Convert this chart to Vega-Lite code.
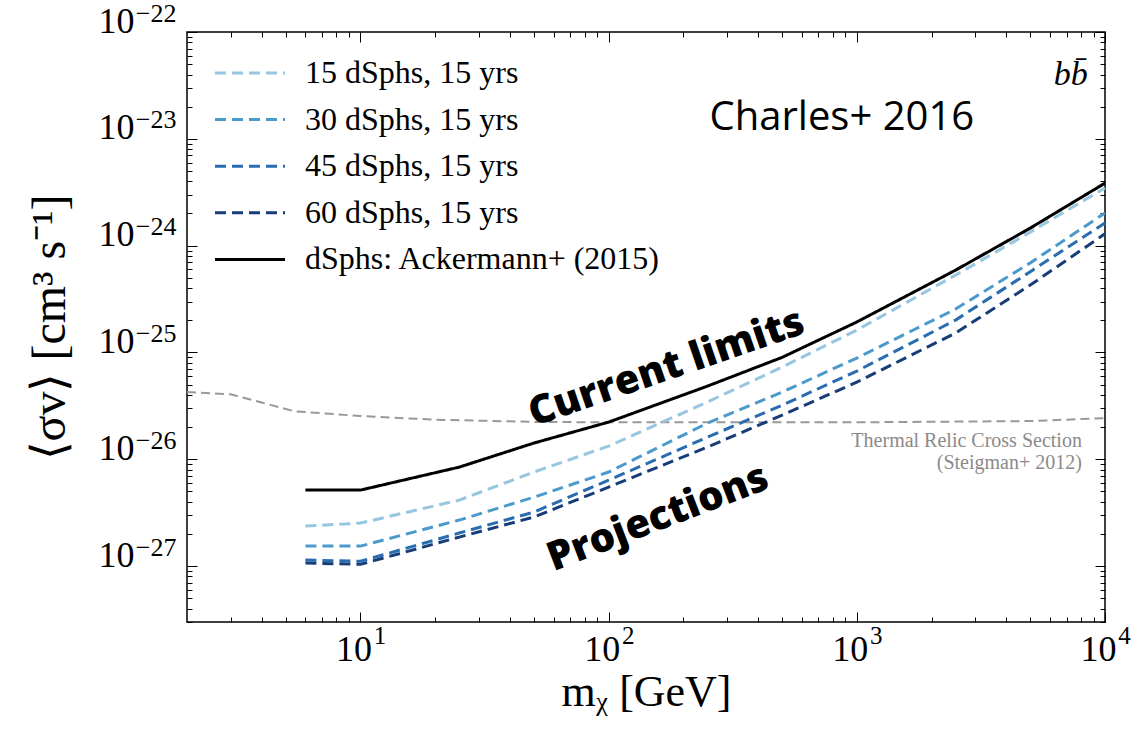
{
  "$schema": "https://vega.github.io/schema/vega-lite/v6.json",
  "width": 918,
  "height": 590,
  "autosize": {"type": "none"},
  "padding": {"left": 187, "top": 32, "right": 34, "bottom": 111},
  "background": "white",
  "config": {
    "view": {"stroke": "black", "strokeWidth": 1.5},
    "axis": {
      "domain": false,
      "grid": false,
      "tickColor": "black",
      "tickWidth": 1,
      "labelFont": "Liberation Serif",
      "labelColor": "black",
      "titleFont": "Liberation Serif",
      "titleColor": "black",
      "titleFontWeight": "normal",
      "labelOverlap": false,
      "labelFlush": false,
      "labelBound": false
    }
  },
  "datasets": {
    "limits": [
      {"series": "15 dSphs, 15 yrs", "mass": 6, "sv": 2.37e-27},
      {"series": "15 dSphs, 15 yrs", "mass": 10, "sv": 2.53e-27},
      {"series": "15 dSphs, 15 yrs", "mass": 25, "sv": 4.15e-27},
      {"series": "15 dSphs, 15 yrs", "mass": 50, "sv": 7.6e-27},
      {"series": "15 dSphs, 15 yrs", "mass": 100, "sv": 1.33e-26},
      {"series": "15 dSphs, 15 yrs", "mass": 250, "sv": 3.44e-26},
      {"series": "15 dSphs, 15 yrs", "mass": 500, "sv": 7.3e-26},
      {"series": "15 dSphs, 15 yrs", "mass": 1000, "sv": 1.62e-25},
      {"series": "15 dSphs, 15 yrs", "mass": 2500, "sv": 5.3e-25},
      {"series": "15 dSphs, 15 yrs", "mass": 5000, "sv": 1.34e-24},
      {"series": "15 dSphs, 15 yrs", "mass": 10000, "sv": 3.47e-24},
      {"series": "30 dSphs, 15 yrs", "mass": 6, "sv": 1.54e-27},
      {"series": "30 dSphs, 15 yrs", "mass": 10, "sv": 1.54e-27},
      {"series": "30 dSphs, 15 yrs", "mass": 25, "sv": 2.7e-27},
      {"series": "30 dSphs, 15 yrs", "mass": 50, "sv": 4.42e-27},
      {"series": "30 dSphs, 15 yrs", "mass": 100, "sv": 7.6e-27},
      {"series": "30 dSphs, 15 yrs", "mass": 250, "sv": 2.18e-26},
      {"series": "30 dSphs, 15 yrs", "mass": 500, "sv": 4.26e-26},
      {"series": "30 dSphs, 15 yrs", "mass": 1000, "sv": 8.87e-26},
      {"series": "30 dSphs, 15 yrs", "mass": 2500, "sv": 2.55e-25},
      {"series": "30 dSphs, 15 yrs", "mass": 5000, "sv": 6.9e-25},
      {"series": "30 dSphs, 15 yrs", "mass": 10000, "sv": 2.02e-24},
      {"series": "45 dSphs, 15 yrs", "mass": 6, "sv": 1.14e-27},
      {"series": "45 dSphs, 15 yrs", "mass": 10, "sv": 1.11e-27},
      {"series": "45 dSphs, 15 yrs", "mass": 25, "sv": 2.04e-27},
      {"series": "45 dSphs, 15 yrs", "mass": 50, "sv": 3.21e-27},
      {"series": "45 dSphs, 15 yrs", "mass": 100, "sv": 6.38e-27},
      {"series": "45 dSphs, 15 yrs", "mass": 250, "sv": 1.61e-26},
      {"series": "45 dSphs, 15 yrs", "mass": 500, "sv": 3.21e-26},
      {"series": "45 dSphs, 15 yrs", "mass": 1000, "sv": 6.7e-26},
      {"series": "45 dSphs, 15 yrs", "mass": 2500, "sv": 2.01e-25},
      {"series": "45 dSphs, 15 yrs", "mass": 5000, "sv": 5.71e-25},
      {"series": "45 dSphs, 15 yrs", "mass": 10000, "sv": 1.63e-24},
      {"series": "60 dSphs, 15 yrs", "mass": 6, "sv": 1.07e-27},
      {"series": "60 dSphs, 15 yrs", "mass": 10, "sv": 1.04e-27},
      {"series": "60 dSphs, 15 yrs", "mass": 25, "sv": 1.87e-27},
      {"series": "60 dSphs, 15 yrs", "mass": 50, "sv": 2.88e-27},
      {"series": "60 dSphs, 15 yrs", "mass": 100, "sv": 5.5e-27},
      {"series": "60 dSphs, 15 yrs", "mass": 250, "sv": 1.3e-26},
      {"series": "60 dSphs, 15 yrs", "mass": 500, "sv": 2.59e-26},
      {"series": "60 dSphs, 15 yrs", "mass": 1000, "sv": 5.28e-26},
      {"series": "60 dSphs, 15 yrs", "mass": 2500, "sv": 1.52e-25},
      {"series": "60 dSphs, 15 yrs", "mass": 5000, "sv": 4.28e-25},
      {"series": "60 dSphs, 15 yrs", "mass": 10000, "sv": 1.29e-24},
      {"series": "dSphs: Ackermann+ (2015)", "mass": 6, "sv": 5.15e-27},
      {"series": "dSphs: Ackermann+ (2015)", "mass": 10, "sv": 5.15e-27},
      {"series": "dSphs: Ackermann+ (2015)", "mass": 25, "sv": 8.45e-27},
      {"series": "dSphs: Ackermann+ (2015)", "mass": 50, "sv": 1.42e-26},
      {"series": "dSphs: Ackermann+ (2015)", "mass": 100, "sv": 2.23e-26},
      {"series": "dSphs: Ackermann+ (2015)", "mass": 250, "sv": 4.84e-26},
      {"series": "dSphs: Ackermann+ (2015)", "mass": 500, "sv": 9.0e-26},
      {"series": "dSphs: Ackermann+ (2015)", "mass": 1000, "sv": 1.93e-25},
      {"series": "dSphs: Ackermann+ (2015)", "mass": 2500, "sv": 5.9e-25},
      {"series": "dSphs: Ackermann+ (2015)", "mass": 5000, "sv": 1.46e-24},
      {"series": "dSphs: Ackermann+ (2015)", "mass": 10000, "sv": 3.85e-24}
    ],
    "relic": [
      {"mass": 2, "sv": 4.26e-26},
      {"mass": 3, "sv": 4.06e-26},
      {"mass": 4, "sv": 3.4e-26},
      {"mass": 5.4, "sv": 2.82e-26},
      {"mass": 10, "sv": 2.54e-26},
      {"mass": 20, "sv": 2.35e-26},
      {"mass": 50, "sv": 2.24e-26},
      {"mass": 100, "sv": 2.22e-26},
      {"mass": 1000, "sv": 2.22e-26},
      {"mass": 5000, "sv": 2.28e-26},
      {"mass": 10000, "sv": 2.43e-26}
    ]
  },
  "layer": [
    {
      "data": {"name": "relic"},
      "mark": {"type": "line", "color": "#999999", "strokeWidth": 2, "strokeDash": [9, 5]},
      "encoding": {
        "x": {
          "field": "mass", "type": "quantitative",
          "scale": {"type": "log", "domain": [2, 10000]},
          "axis": {
            "orient": "bottom",
            "values": [10, 100, 1000, 10000],
            "ticks": false,
            "labelExpr": "'' + round(log(datum.value)/LN10)",
            "labelFontSize": 25,
            "labelPadding": 1,
            "labelOffset": 19,
            "title": null
          }
        },
        "y": {
          "field": "sv", "type": "quantitative",
          "scale": {"type": "log", "domain": [3e-28, 1e-22]},
          "axis": {
            "orient": "left",
            "values": [1e-27, 1e-26, 1e-25, 1e-24, 1e-23, 1e-22],
            "ticks": false,
            "labelExpr": "'−' + abs(round(log(datum.value)/LN10))",
            "labelFontSize": 26,
            "labelPadding": 11,
            "labelOffset": -19,
            "labelBaseline": "middle",
            "title": null
          }
        }
      }
    },
    {
      "data": {"name": "limits"},
      "mark": {"type": "line", "strokeWidth": 3},
      "encoding": {
        "x": {
          "field": "mass", "type": "quantitative",
          "scale": {"type": "log", "domain": [2, 10000]},
          "axis": {
            "orient": "bottom",
            "values": [3, 4, 5, 6, 7, 8, 9, 10, 20, 30, 40, 50, 60, 70, 80, 90, 100, 200, 300, 400, 500, 600, 700, 800, 900, 1000, 2000, 3000, 4000, 5000, 6000, 7000, 8000, 9000, 10000],
            "tickSize": {"condition": {"test": "abs(log(datum.value)/LN10 - round(log(datum.value)/LN10)) < 0.001", "value": -10}, "value": -5},
            "labelExpr": "abs(log(datum.value)/LN10 - round(log(datum.value)/LN10)) > 0.001 ? '' : '10'",
            "labelFontSize": 36,
            "labelPadding": 20,
            "labelOffset": -7,
            "title": "mᵪ [GeV]",
            "titleFontSize": 44,
            "titlePadding": -2
          }
        },
        "y": {
          "field": "sv", "type": "quantitative",
          "scale": {"type": "log", "domain": [3e-28, 1e-22]},
          "axis": {
            "orient": "left",
            "values": [3e-28, 4e-28, 5e-28, 6e-28, 7e-28, 8e-28, 9e-28, 1e-27, 2e-27, 3e-27, 4e-27, 5e-27, 6e-27, 7e-27, 8e-27, 9e-27, 1e-26, 2e-26, 3e-26, 4e-26, 5e-26, 6e-26, 7e-26, 8e-26, 9e-26, 1e-25, 2e-25, 3e-25, 4e-25, 5e-25, 6e-25, 7e-25, 8e-25, 9e-25, 1e-24, 2e-24, 3e-24, 4e-24, 5e-24, 6e-24, 7e-24, 8e-24, 9e-24, 1e-23, 2e-23, 3e-23, 4e-23, 5e-23, 6e-23, 7e-23, 8e-23, 9e-23, 1e-22],
            "tickSize": {"condition": {"test": "abs(log(datum.value)/LN10 - round(log(datum.value)/LN10)) < 0.001", "value": -10}, "value": -5},
            "labelExpr": "abs(log(datum.value)/LN10 - round(log(datum.value)/LN10)) > 0.001 ? '' : '10'",
            "labelFontSize": 36,
            "labelPadding": 63,
            "labelBaseline": "alphabetic",
            "title": "⟨σv⟩ [cm³ s⁻¹]",
            "titleFontSize": 48,
            "titlePadding": 24
          }
        },
        "color": {
          "field": "series", "type": "nominal",
          "scale": {
            "domain": ["15 dSphs, 15 yrs", "30 dSphs, 15 yrs", "45 dSphs, 15 yrs", "60 dSphs, 15 yrs", "dSphs: Ackermann+ (2015)"],
            "range": ["#96c6e0", "#4b9acb", "#2a6cb0", "#173d78", "#000000"]
          },
          "legend": {
            "title": null, "orient": "none", "legendX": 47, "legendY": 25, "padding": 0,
            "symbolType": "M-2.5,0H2.5", "symbolSize": 784, "symbolStrokeWidth": 3,
            "labelFont": "Liberation Serif", "labelFontSize": 32, "labelColor": "black",
            "labelOffset": 39, "rowPadding": 14.6, "labelLimit": 0
          }
        },
        "strokeDash": {
          "field": "series", "type": "nominal",
          "scale": {
            "domain": ["15 dSphs, 15 yrs", "30 dSphs, 15 yrs", "45 dSphs, 15 yrs", "60 dSphs, 15 yrs", "dSphs: Ackermann+ (2015)"],
            "range": [[11, 6], [11, 6], [11, 6], [11, 6], [1, 0]]
          },
          "legend": {
            "title": null, "orient": "none", "legendX": 47, "legendY": 25, "padding": 0,
            "symbolType": "M-2.5,0H2.5", "symbolSize": 784, "symbolStrokeWidth": 3,
            "labelFont": "Liberation Serif", "labelFontSize": 32, "labelColor": "black",
            "labelOffset": 39, "rowPadding": 14.6, "labelLimit": 0
          }
        }
      }
    },
    {
      "data": {"values": [{"mass": 8530, "sv": 3.96e-23, "label": "bb̄"}]},
      "mark": {"type": "text", "font": "Liberation Serif", "fontStyle": "italic", "fontSize": 34, "align": "right", "baseline": "middle", "color": "black"},
      "encoding": {
        "x": {
          "field": "mass", "type": "quantitative",
          "scale": {"type": "log", "domain": [2, 10000]},
          "axis": {
            "orient": "top",
            "values": [3, 4, 5, 6, 7, 8, 9, 10, 20, 30, 40, 50, 60, 70, 80, 90, 100, 200, 300, 400, 500, 600, 700, 800, 900, 1000, 2000, 3000, 4000, 5000, 6000, 7000, 8000, 9000, 10000],
            "tickSize": {"condition": {"test": "abs(log(datum.value)/LN10 - round(log(datum.value)/LN10)) < 0.001", "value": -10}, "value": -5},
            "labels": false,
            "title": null
          }
        },
        "y": {
          "field": "sv", "type": "quantitative",
          "scale": {"type": "log", "domain": [3e-28, 1e-22]},
          "axis": {
            "orient": "right",
            "values": [3e-28, 4e-28, 5e-28, 6e-28, 7e-28, 8e-28, 9e-28, 1e-27, 2e-27, 3e-27, 4e-27, 5e-27, 6e-27, 7e-27, 8e-27, 9e-27, 1e-26, 2e-26, 3e-26, 4e-26, 5e-26, 6e-26, 7e-26, 8e-26, 9e-26, 1e-25, 2e-25, 3e-25, 4e-25, 5e-25, 6e-25, 7e-25, 8e-25, 9e-25, 1e-24, 2e-24, 3e-24, 4e-24, 5e-24, 6e-24, 7e-24, 8e-24, 9e-24, 1e-23, 2e-23, 3e-23, 4e-23, 5e-23, 6e-23, 7e-23, 8e-23, 9e-23, 1e-22],
            "tickSize": {"condition": {"test": "abs(log(datum.value)/LN10 - round(log(datum.value)/LN10)) < 0.001", "value": -10}, "value": -5},
            "labels": false,
            "title": null
          }
        },
        "text": {"field": "label"}
      }
    },
    {
      "data": {"values": [{"mass": 870, "sv": 1.57e-23, "label": "Charles+ 2016"}]},
      "mark": {"type": "text", "font": "Open Sans", "fontSize": 40, "align": "center", "baseline": "middle", "color": "black"},
      "encoding": {
        "x": {"field": "mass", "type": "quantitative", "scale": {"type": "log", "domain": [2, 10000]}, "axis": null},
        "y": {"field": "sv", "type": "quantitative", "scale": {"type": "log", "domain": [3e-28, 1e-22]}, "axis": null},
        "text": {"field": "label"}
      }
    },
    {
      "data": {"values": [
        {"mass": 171, "sv": 7.14e-26, "label": "Current limits", "tilt": -19},
        {"mass": 158, "sv": 2.81e-27, "label": "Projections", "tilt": -21}
      ]},
      "mark": {"type": "text", "font": "Open Sans", "fontWeight": 800, "fontSize": 40, "align": "center", "baseline": "middle", "color": "black"},
      "encoding": {
        "x": {"field": "mass", "type": "quantitative", "scale": {"type": "log", "domain": [2, 10000]}, "axis": null},
        "y": {"field": "sv", "type": "quantitative", "scale": {"type": "log", "domain": [3e-28, 1e-22]}, "axis": null},
        "angle": {"field": "tilt", "type": "quantitative", "scale": null},
        "text": {"field": "label"}
      }
    },
    {
      "data": {"values": [
        {"mass": 8070, "sv": 1.48e-26, "label": "Thermal Relic Cross Section"},
        {"mass": 8070, "sv": 9.2e-27, "label": "(Steigman+ 2012)"}
      ]},
      "mark": {"type": "text", "font": "Liberation Serif", "fontSize": 20, "align": "right", "baseline": "middle", "color": "#8a8a8a"},
      "encoding": {
        "x": {"field": "mass", "type": "quantitative", "scale": {"type": "log", "domain": [2, 10000]}, "axis": null},
        "y": {"field": "sv", "type": "quantitative", "scale": {"type": "log", "domain": [3e-28, 1e-22]}, "axis": null},
        "text": {"field": "label"}
      }
    }
  ],
  "resolve": {"axis": {"x": "independent", "y": "independent"}}
}
